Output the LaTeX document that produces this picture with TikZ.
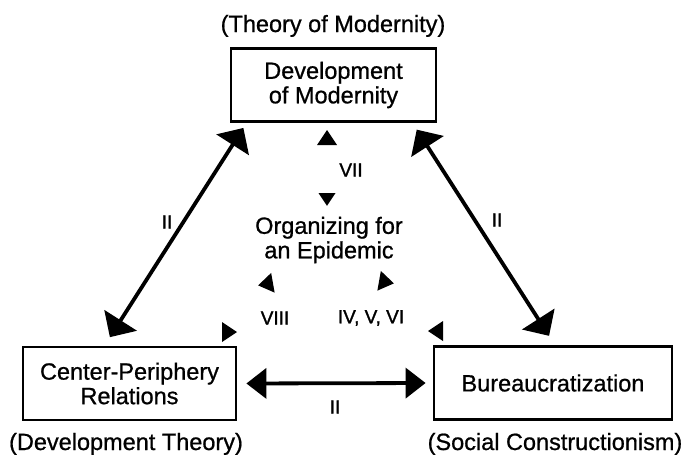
\documentclass[tikz,border=0pt]{standalone}
\usepackage{fontspec}
\setmainfont{Liberation Sans}[FakeBold=0.8]
\newfontfamily\numfont{Liberation Sans}[FakeBold=1.4]
\usetikzlibrary{arrows.meta}
\begin{document}
\begin{tikzpicture}[x=1pt,y=-1pt,
  bigfont/.style={font=\fontsize{23.5}{24.5}\selectfont},
  smallfont/.style={font=\numfont\fontsize{19}{21}\selectfont},
  box/.style={draw, line width=2.8pt, minimum height=73pt, align=center,
    inner sep=0pt, bigfont},
  theory/.style={anchor=base, inner sep=0pt, bigfont},
  roman/.style={inner sep=0pt, smallfont},
  bigarrow/.style={line width=3.8pt,
    {Triangle[length=20pt,width=38pt]}-{Triangle[length=20pt,width=38pt]}},
  flatarrow/.style={line width=3.8pt,
    {Triangle[length=20pt,width=30pt]}-{Triangle[length=20pt,width=30pt]}},
  smalltip/.pic={\fill (8,0) -- (-7,10) -- (-7,-10) -- cycle;}
]
\useasboundingbox (0,0) rectangle (682,455);

% the three fields
\node[box, minimum width=205pt] (modern) at (333.5,85) {Development\\of Modernity};
\node[box, minimum width=213pt] (center) at (129.5,383.5) {Center-Periphery\\Relations};
\node[box, minimum width=238pt] (bureau) at (553,383) {Bureaucratization};

% their theories
\node[theory] (tmod) at (333,32) {(Theory of Modernity)};
\node[theory] (tdev) at (126,450) {(Development Theory)};
\node[theory] (tsoc) at (555,450) {(Social Constructionism)};

% the case in the middle
\node[align=center, inner sep=0pt, bigfont] (epi) at (329,240) {Organizing for\\an Epidemic};

% links between the fields
\draw[bigarrow, shorten <=6pt, shorten >=10pt]
  ([xshift=17pt]modern.south west) -- ([xshift=-25pt]center.north);
\draw[bigarrow, shorten <=8pt, shorten >=11pt]
  ([xshift=-25pt]modern.south east) -- ([xshift=2pt]bureau.north);
\draw[flatarrow, shorten <=9pt, shorten >=7pt] (center.east) -- (bureau.west);

\node[roman] (l1) at (167,222) {II};
\node[roman] (l2) at (497,220) {II};
\node[roman] (l3) at (335,407) {II};

% links to the case
\pic[rotate=90] at (327,138) {smalltip};
\pic[rotate=-90, scale=0.85] at (327,199) {smalltip};
\node[roman] (l7) at (351,170) {VII};

\pic[rotate=190] at (266,284) {smalltip};
\pic[rotate=0] at (229,332) {smalltip};
\node[roman] (l8) at (275,318) {VIII};

\pic[rotate=-10] at (386,282) {smalltip};
\pic[rotate=180] at (436,331) {smalltip};
\node[roman] (l4) at (371,318) {IV, V, VI};
\end{tikzpicture}
\end{document}
